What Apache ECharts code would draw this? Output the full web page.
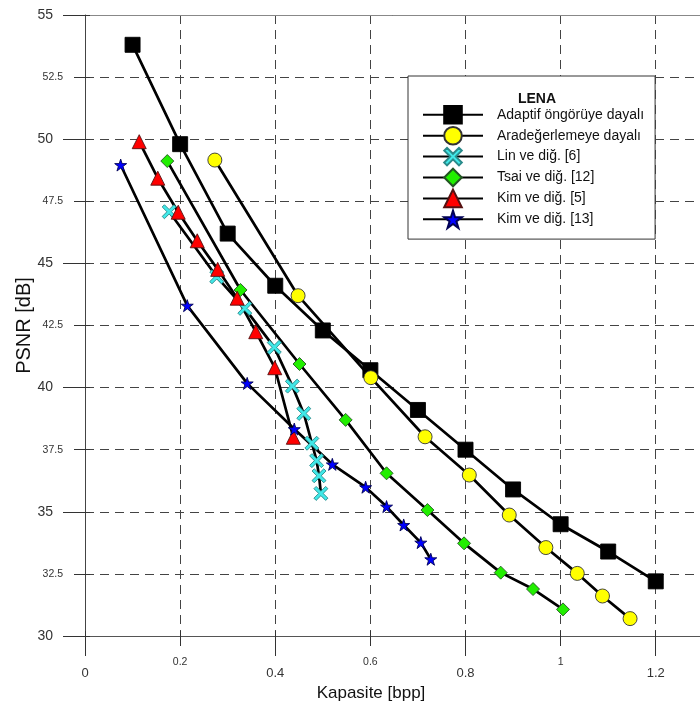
<!DOCTYPE html>
<html><head><meta charset="utf-8">
<script src="https://cdn.jsdelivr.net/npm/echarts@6/dist/echarts.min.js"></script>
<style>html,body{margin:0;padding:0;background:#fff}#c{width:700px;height:713px}</style>
</head><body><div id="c"></div><script>
const legendTitle = 'LENA';
const xAxisTitle = 'Kapasite [bpp]';
const yAxisTitle = 'PSNR [dB]';
const seriesNames = ['Adaptif öngörüye dayalı', 'Aradeğerlemeye dayalı', 'Lin ve diğ. [6]', 'Tsai ve diğ. [12]', 'Kim ve diğ. [5]', 'Kim ve diğ. [13]'];

const adaptifX = [0.1, 0.2, 0.3, 0.4, 0.5, 0.6, 0.7, 0.8, 0.9, 1.0, 1.1, 1.2];
const adaptifY = [53.8, 49.8, 46.2, 44.1, 42.3, 40.7, 39.1, 37.5, 35.9, 34.5, 33.4, 32.2];
const aradegerX = [0.273, 0.448, 0.601, 0.715, 0.808, 0.892, 0.969, 1.035, 1.088, 1.146];
const aradegerY = [49.16, 43.70, 40.40, 38.02, 36.48, 34.87, 33.56, 32.52, 31.61, 30.70];
const linX = [0.177, 0.277, 0.336, 0.398, 0.436, 0.460, 0.477, 0.487, 0.492, 0.496];
const linY = [47.08, 44.46, 43.19, 41.62, 40.06, 38.96, 37.76, 37.06, 36.45, 35.74];
const tsaiX = [0.173, 0.327, 0.451, 0.548, 0.634, 0.720, 0.797, 0.874, 0.942, 1.005];
const tsaiY = [49.12, 43.93, 40.95, 38.70, 36.55, 35.07, 33.73, 32.55, 31.89, 31.07];
const kim5X = [0.114, 0.153, 0.196, 0.236, 0.279, 0.320, 0.359, 0.399, 0.438];
const kim5Y = [49.90, 48.43, 47.06, 45.91, 44.76, 43.60, 42.25, 40.80, 38.00];
const kim13X = [0.075, 0.215, 0.341, 0.440, 0.520, 0.590, 0.634, 0.670, 0.706, 0.727];
const kim13Y = [48.96, 43.30, 40.17, 38.33, 36.91, 35.99, 35.21, 34.47, 33.76, 33.09];

const FONT = "'Liberation Sans', Arial, sans-serif";
const pairs = (xs, ys) => xs.map((x, i) => [x, ys[i]]);
const STAR = 'path://M50,0 L61.8,35.4 L99,35.4 L68.9,57.3 L80.4,92.7 L50,70.8 L19.6,92.7 L31.1,57.3 L1,35.4 L38.2,35.4 Z';
const CROSS = 'path://M0,16 L16,0 L50,34 L84,0 L100,16 L66,50 L100,84 L84,100 L50,66 L16,100 L0,84 L34,50 Z';

const gridLine = { show: true, lineStyle: { color: '#444', width: 1, type: [9, 6] } };
const isMult = (v, s) => Math.abs(v / s - Math.round(v / s)) < 1e-6;
const fmt = v => String(+v.toFixed(2));

const specs = [
  { x: adaptifX, y: adaptifY, symbol: 'rect', size: 15, color: '#000000', border: '#000000' },
  { x: aradegerX, y: aradegerY, symbol: 'circle', size: 14, color: '#FFFF00', border: '#333333' },
  { x: linX, y: linY, symbol: CROSS, size: 14, color: '#40E8E8', border: '#2A8A8A' },
  { x: tsaiX, y: tsaiY, symbol: 'diamond', size: 13, color: '#22EE00', border: '#225522' },
  { x: kim5X, y: kim5Y, symbol: 'triangle', size: 14, color: '#FF0000', border: '#551111' },
  { x: kim13X, y: kim13Y, symbol: STAR, size: 12, color: '#0000FF', border: '#000055' }
];

const series = specs.map((s, i) => ({
  name: seriesNames[i], type: 'line', xAxisIndex: 0, yAxisIndex: 0,
  data: pairs(s.x, s.y), symbol: s.symbol, symbolSize: s.size, showAllSymbol: true,
  lineStyle: { color: '#000', width: 2.7 },
  itemStyle: { color: s.color, borderColor: s.border, borderWidth: 0.9 },
  emphasis: { disabled: true }, animation: false
}));

const chart = echarts.init(document.getElementById('c'), null, { renderer: 'canvas' });
chart.setOption({
  animation: false,
  backgroundColor: '#fff',
  textStyle: { fontFamily: FONT },
  grid: { left: 85, top: 15, width: 761, height: 621, containLabel: false, outerBoundsMode: 'none' },
  title: { text: legendTitle, left: 532, top: 87, textAlign: 'center', z: 10,
    textStyle: { fontSize: 14, fontWeight: 'bold', color: '#111', fontFamily: FONT } },
  legend: {
    orient: 'vertical', left: 408, top: 76, padding: [29, 11, 10, 14],
    itemWidth: 60, itemHeight: 22, itemGap: 1.3,
    backgroundColor: '#fff', borderColor: '#333', borderWidth: 1,
    textStyle: { fontSize: 14, color: '#111', fontFamily: FONT, width: 150, padding: [0, 0, 0, 9] },
    data: seriesNames
  },
  xAxis: [
    { type: 'value', min: 0, max: 1.6, interval: 0.4, position: 'bottom',
      axisLine: { show: true, onZero: false, lineStyle: { color: '#555', width: 1.2 } },
      axisTick: { show: true, length: 20, lineStyle: { color: '#333' } },
      minorTick: { show: true, splitNumber: 2, length: 10, lineStyle: { color: '#333' } },
      splitLine: gridLine, minorSplitLine: gridLine,
      axisLabel: { margin: 31, fontSize: 13, color: '#333', fontFamily: FONT, formatter: v => isMult(v, 0.4) ? fmt(v) : '' },
      name: xAxisTitle, nameLocation: 'middle', nameGap: 49, nameMoveOverlap: false,
      nameTextStyle: { fontSize: 17, color: '#111', fontFamily: FONT, padding: [0, 189, 0, 0] } },
    { type: 'value', min: 0, max: 1.6, interval: 0.4, position: 'top',
      axisLine: { show: true, onZero: false, lineStyle: { color: '#888', width: 1 } },
      axisTick: { show: false }, axisLabel: { show: false }, splitLine: { show: false } },
    { type: 'value', min: 0, max: 1.6, interval: 0.2, position: 'bottom',
      axisLine: { show: false, onZero: false },
      axisTick: { show: true, inside: true, length: 5, lineStyle: { color: '#333' } },
      axisLabel: { margin: 21, fontSize: 10.5, color: '#333', fontFamily: FONT, formatter: v => isMult(v, 0.4) ? '' : fmt(v) },
      splitLine: { show: false } }
  ],
  yAxis: [
    { type: 'value', min: 30, max: 55, interval: 5, position: 'left',
      axisLine: { show: true, onZero: false, lineStyle: { color: '#444', width: 1 } },
      axisTick: { show: true, length: 22, lineStyle: { color: '#333' } },
      minorTick: { show: true, splitNumber: 2, length: 11, lineStyle: { color: '#333' } },
      splitLine: gridLine, minorSplitLine: gridLine,
      axisLabel: { margin: 32, fontSize: 14, color: '#333', fontFamily: FONT, formatter: v => fmt(v) },
      name: yAxisTitle, nameLocation: 'middle', nameGap: 51, nameMoveOverlap: false,
      nameTextStyle: { fontSize: 20, color: '#111', fontFamily: FONT } },
    { type: 'value', min: 30, max: 55, interval: 2.5, position: 'left',
      axisLine: { show: false, onZero: false },
      axisTick: { show: true, inside: true, length: 5, lineStyle: { color: '#333' } },
      axisLabel: { margin: 22, fontSize: 10.5, color: '#333', fontFamily: FONT, formatter: v => isMult(v, 5) ? '' : fmt(v) },
      splitLine: { show: false } }
  ],
  series: series
});
</script></body></html>
